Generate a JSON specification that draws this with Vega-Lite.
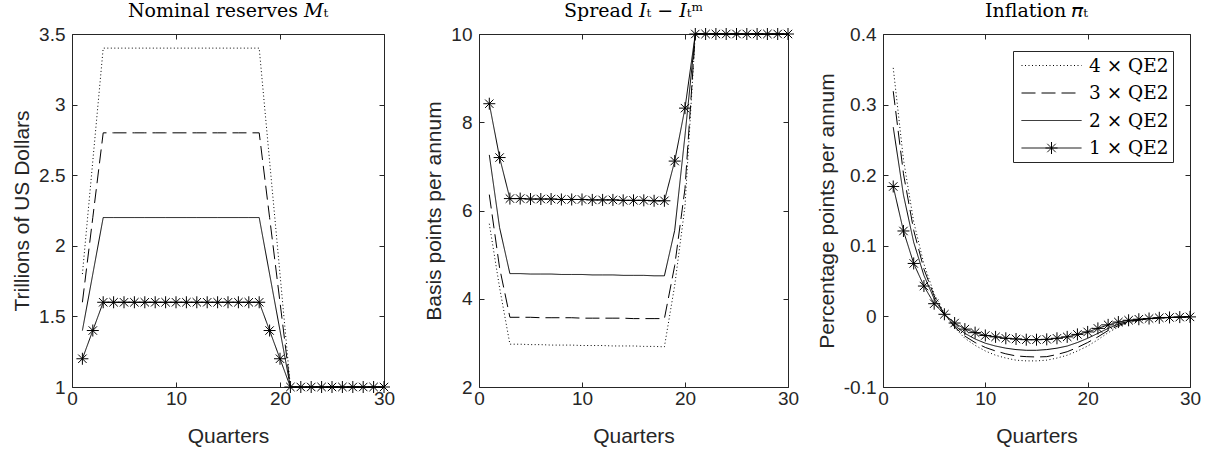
{
  "$schema": "https://vega.github.io/schema/vega-lite/v6.json",
  "background": "white",
  "padding": {"left": 11, "top": 1, "right": 5, "bottom": 5},
  "bounds": "flush",
  "spacing": 95,
  "data": {"values": [
    {"s":"1 × QE2","t":1,"M":1.2,"S":8.42,"P":0.184},
    {"s":"1 × QE2","t":2,"M":1.4,"S":7.2,"P":0.121},
    {"s":"1 × QE2","t":3,"M":1.6,"S":6.27,"P":0.075},
    {"s":"1 × QE2","t":4,"M":1.6,"S":6.27,"P":0.043},
    {"s":"1 × QE2","t":5,"M":1.6,"S":6.26,"P":0.018},
    {"s":"1 × QE2","t":6,"M":1.6,"S":6.26,"P":0.003},
    {"s":"1 × QE2","t":7,"M":1.6,"S":6.26,"P":-0.0094},
    {"s":"1 × QE2","t":8,"M":1.6,"S":6.25,"P":-0.018},
    {"s":"1 × QE2","t":9,"M":1.6,"S":6.25,"P":-0.023},
    {"s":"1 × QE2","t":10,"M":1.6,"S":6.25,"P":-0.027},
    {"s":"1 × QE2","t":11,"M":1.6,"S":6.24,"P":-0.029},
    {"s":"1 × QE2","t":12,"M":1.6,"S":6.24,"P":-0.031},
    {"s":"1 × QE2","t":13,"M":1.6,"S":6.24,"P":-0.032},
    {"s":"1 × QE2","t":14,"M":1.6,"S":6.23,"P":-0.033},
    {"s":"1 × QE2","t":15,"M":1.6,"S":6.23,"P":-0.033},
    {"s":"1 × QE2","t":16,"M":1.6,"S":6.23,"P":-0.0325},
    {"s":"1 × QE2","t":17,"M":1.6,"S":6.22,"P":-0.031},
    {"s":"1 × QE2","t":18,"M":1.6,"S":6.22,"P":-0.029},
    {"s":"1 × QE2","t":19,"M":1.4,"S":7.12,"P":-0.0255},
    {"s":"1 × QE2","t":20,"M":1.2,"S":8.32,"P":-0.022},
    {"s":"1 × QE2","t":21,"M":1,"S":10,"P":-0.017},
    {"s":"1 × QE2","t":22,"M":1,"S":10,"P":-0.012},
    {"s":"1 × QE2","t":23,"M":1,"S":10,"P":-0.008},
    {"s":"1 × QE2","t":24,"M":1,"S":10,"P":-0.0055},
    {"s":"1 × QE2","t":25,"M":1,"S":10,"P":-0.004},
    {"s":"1 × QE2","t":26,"M":1,"S":10,"P":-0.003},
    {"s":"1 × QE2","t":27,"M":1,"S":10,"P":-0.002},
    {"s":"1 × QE2","t":28,"M":1,"S":10,"P":-0.0015},
    {"s":"1 × QE2","t":29,"M":1,"S":10,"P":-0.001},
    {"s":"1 × QE2","t":30,"M":1,"S":10,"P":-0.0007},

    {"s":"2 × QE2","t":1,"M":1.4,"S":7.26,"P":0.268},
    {"s":"2 × QE2","t":2,"M":1.8,"S":5.61,"P":0.172},
    {"s":"2 × QE2","t":3,"M":2.2,"S":4.57,"P":0.105},
    {"s":"2 × QE2","t":4,"M":2.2,"S":4.57,"P":0.058},
    {"s":"2 × QE2","t":5,"M":2.2,"S":4.56,"P":0.025},
    {"s":"2 × QE2","t":6,"M":2.2,"S":4.56,"P":0.003},
    {"s":"2 × QE2","t":7,"M":2.2,"S":4.56,"P":-0.013},
    {"s":"2 × QE2","t":8,"M":2.2,"S":4.55,"P":-0.024},
    {"s":"2 × QE2","t":9,"M":2.2,"S":4.55,"P":-0.032},
    {"s":"2 × QE2","t":10,"M":2.2,"S":4.55,"P":-0.038},
    {"s":"2 × QE2","t":11,"M":2.2,"S":4.54,"P":-0.042},
    {"s":"2 × QE2","t":12,"M":2.2,"S":4.54,"P":-0.045},
    {"s":"2 × QE2","t":13,"M":2.2,"S":4.54,"P":-0.047},
    {"s":"2 × QE2","t":14,"M":2.2,"S":4.53,"P":-0.048},
    {"s":"2 × QE2","t":15,"M":2.2,"S":4.53,"P":-0.048},
    {"s":"2 × QE2","t":16,"M":2.2,"S":4.53,"P":-0.047},
    {"s":"2 × QE2","t":17,"M":2.2,"S":4.52,"P":-0.045},
    {"s":"2 × QE2","t":18,"M":2.2,"S":4.52,"P":-0.042},
    {"s":"2 × QE2","t":19,"M":1.8,"S":5.55,"P":-0.037},
    {"s":"2 × QE2","t":20,"M":1.4,"S":7.7,"P":-0.031},
    {"s":"2 × QE2","t":21,"M":1,"S":10,"P":-0.024},
    {"s":"2 × QE2","t":22,"M":1,"S":10,"P":-0.017},
    {"s":"2 × QE2","t":23,"M":1,"S":10,"P":-0.011},
    {"s":"2 × QE2","t":24,"M":1,"S":10,"P":-0.007},
    {"s":"2 × QE2","t":25,"M":1,"S":10,"P":-0.005},
    {"s":"2 × QE2","t":26,"M":1,"S":10,"P":-0.003},
    {"s":"2 × QE2","t":27,"M":1,"S":10,"P":-0.002},
    {"s":"2 × QE2","t":28,"M":1,"S":10,"P":-0.0015},
    {"s":"2 × QE2","t":29,"M":1,"S":10,"P":-0.001},
    {"s":"2 × QE2","t":30,"M":1,"S":10,"P":-0.0007},

    {"s":"3 × QE2","t":1,"M":1.6,"S":6.36,"P":0.319},
    {"s":"3 × QE2","t":2,"M":2.2,"S":4.7,"P":0.202},
    {"s":"3 × QE2","t":3,"M":2.8,"S":3.58,"P":0.122},
    {"s":"3 × QE2","t":4,"M":2.8,"S":3.58,"P":0.067},
    {"s":"3 × QE2","t":5,"M":2.8,"S":3.58,"P":0.029},
    {"s":"3 × QE2","t":6,"M":2.8,"S":3.57,"P":0.003},
    {"s":"3 × QE2","t":7,"M":2.8,"S":3.57,"P":-0.015},
    {"s":"3 × QE2","t":8,"M":2.8,"S":3.57,"P":-0.028},
    {"s":"3 × QE2","t":9,"M":2.8,"S":3.57,"P":-0.037},
    {"s":"3 × QE2","t":10,"M":2.8,"S":3.56,"P":-0.044},
    {"s":"3 × QE2","t":11,"M":2.8,"S":3.56,"P":-0.049},
    {"s":"3 × QE2","t":12,"M":2.8,"S":3.56,"P":-0.053},
    {"s":"3 × QE2","t":13,"M":2.8,"S":3.56,"P":-0.056},
    {"s":"3 × QE2","t":14,"M":2.8,"S":3.56,"P":-0.057},
    {"s":"3 × QE2","t":15,"M":2.8,"S":3.55,"P":-0.0575},
    {"s":"3 × QE2","t":16,"M":2.8,"S":3.55,"P":-0.057},
    {"s":"3 × QE2","t":17,"M":2.8,"S":3.55,"P":-0.054},
    {"s":"3 × QE2","t":18,"M":2.8,"S":3.55,"P":-0.05},
    {"s":"3 × QE2","t":19,"M":2.2,"S":4.75,"P":-0.044},
    {"s":"3 × QE2","t":20,"M":1.6,"S":6.5,"P":-0.037},
    {"s":"3 × QE2","t":21,"M":1,"S":10,"P":-0.029},
    {"s":"3 × QE2","t":22,"M":1,"S":10,"P":-0.02},
    {"s":"3 × QE2","t":23,"M":1,"S":10,"P":-0.013},
    {"s":"3 × QE2","t":24,"M":1,"S":10,"P":-0.008},
    {"s":"3 × QE2","t":25,"M":1,"S":10,"P":-0.005},
    {"s":"3 × QE2","t":26,"M":1,"S":10,"P":-0.003},
    {"s":"3 × QE2","t":27,"M":1,"S":10,"P":-0.002},
    {"s":"3 × QE2","t":28,"M":1,"S":10,"P":-0.0015},
    {"s":"3 × QE2","t":29,"M":1,"S":10,"P":-0.001},
    {"s":"3 × QE2","t":30,"M":1,"S":10,"P":-0.0007},

    {"s":"4 × QE2","t":1,"M":1.8,"S":5.7,"P":0.352},
    {"s":"4 × QE2","t":2,"M":2.6,"S":4.25,"P":0.222},
    {"s":"4 × QE2","t":3,"M":3.4,"S":2.97,"P":0.134},
    {"s":"4 × QE2","t":4,"M":3.4,"S":2.97,"P":0.074},
    {"s":"4 × QE2","t":5,"M":3.4,"S":2.96,"P":0.032},
    {"s":"4 × QE2","t":6,"M":3.4,"S":2.96,"P":0.004},
    {"s":"4 × QE2","t":7,"M":3.4,"S":2.95,"P":-0.016},
    {"s":"4 × QE2","t":8,"M":3.4,"S":2.95,"P":-0.031},
    {"s":"4 × QE2","t":9,"M":3.4,"S":2.95,"P":-0.041},
    {"s":"4 × QE2","t":10,"M":3.4,"S":2.94,"P":-0.049},
    {"s":"4 × QE2","t":11,"M":3.4,"S":2.94,"P":-0.055},
    {"s":"4 × QE2","t":12,"M":3.4,"S":2.94,"P":-0.059},
    {"s":"4 × QE2","t":13,"M":3.4,"S":2.93,"P":-0.062},
    {"s":"4 × QE2","t":14,"M":3.4,"S":2.93,"P":-0.063},
    {"s":"4 × QE2","t":15,"M":3.4,"S":2.93,"P":-0.063},
    {"s":"4 × QE2","t":16,"M":3.4,"S":2.92,"P":-0.062},
    {"s":"4 × QE2","t":17,"M":3.4,"S":2.92,"P":-0.059},
    {"s":"4 × QE2","t":18,"M":3.4,"S":2.91,"P":-0.055},
    {"s":"4 × QE2","t":19,"M":2.6,"S":4.3,"P":-0.049},
    {"s":"4 × QE2","t":20,"M":1.8,"S":6.1,"P":-0.042},
    {"s":"4 × QE2","t":21,"M":1,"S":10,"P":-0.033},
    {"s":"4 × QE2","t":22,"M":1,"S":10,"P":-0.023},
    {"s":"4 × QE2","t":23,"M":1,"S":10,"P":-0.015},
    {"s":"4 × QE2","t":24,"M":1,"S":10,"P":-0.009},
    {"s":"4 × QE2","t":25,"M":1,"S":10,"P":-0.006},
    {"s":"4 × QE2","t":26,"M":1,"S":10,"P":-0.004},
    {"s":"4 × QE2","t":27,"M":1,"S":10,"P":-0.0025},
    {"s":"4 × QE2","t":28,"M":1,"S":10,"P":-0.0018},
    {"s":"4 × QE2","t":29,"M":1,"S":10,"P":-0.0012},
    {"s":"4 × QE2","t":30,"M":1,"S":10,"P":-0.0008}
  ]},
  "resolve": {"scale": {"strokeDash": "independent"}, "legend": {"strokeDash": "independent"}},
  "hconcat": [
    {
      "width": 312, "height": 353,
      "title": "Nominal reserves 𝑀ₜ",
      "resolve": {"axis": {"x": "independent", "y": "independent"}},
      "layer": [
        {
          "mark": {"type": "line", "stroke": "black", "strokeWidth": 1},
          "encoding": {
            "x": {"field": "t", "type": "quantitative", "scale": {"domain": [0, 30], "nice": false}, "axis": {"title": "Quarters", "values": [0, 10, 20, 30]}},
            "y": {"field": "M", "type": "quantitative", "scale": {"domain": [1, 3.5], "nice": false, "zero": false}, "axis": {"title": "Trillions of US Dollars", "values": [1, 1.5, 2, 2.5, 3, 3.5], "format": "~g"}},
            "strokeDash": {"field": "s", "type": "nominal", "scale": {"domain": ["4 × QE2", "3 × QE2", "2 × QE2", "1 × QE2"], "range": [[1, 2.5], [14, 6], [1, 0], [1, 0]]}, "legend": null}
          }
        },
        {
          "transform": [{"filter": "datum.s === '1 × QE2'"}],
          "mark": {"type": "point", "shape": "M-1,0H1M0,-1V1M-0.7,-0.7L0.7,0.7M-0.7,0.7L0.7,-0.7", "filled": false, "stroke": "black", "strokeWidth": 1, "size": 144, "opacity": 1},
          "encoding": {
            "x": {"field": "t", "type": "quantitative", "axis": {"orient": "top", "title": null, "labels": false, "values": [0, 10, 20, 30]}},
            "y": {"field": "M", "type": "quantitative", "axis": {"orient": "right", "title": null, "labels": false, "values": [1, 1.5, 2, 2.5, 3, 3.5]}}
          }
        }
      ]
    },
    {
      "width": 309, "height": 353,
      "title": "Spread 𝐼ₜ − 𝐼ₜᵐ",
      "resolve": {"axis": {"x": "independent", "y": "independent"}},
      "layer": [
        {
          "mark": {"type": "line", "stroke": "black", "strokeWidth": 1},
          "encoding": {
            "x": {"field": "t", "type": "quantitative", "scale": {"domain": [0, 30], "nice": false}, "axis": {"title": "Quarters", "values": [0, 10, 20, 30]}},
            "y": {"field": "S", "type": "quantitative", "scale": {"domain": [2, 10], "nice": false, "zero": false}, "axis": {"title": "Basis points per annum", "values": [2, 4, 6, 8, 10]}},
            "strokeDash": {"field": "s", "type": "nominal", "scale": {"domain": ["4 × QE2", "3 × QE2", "2 × QE2", "1 × QE2"], "range": [[1, 2.5], [14, 6], [1, 0], [1, 0]]}, "legend": null}
          }
        },
        {
          "transform": [{"filter": "datum.s === '1 × QE2'"}],
          "mark": {"type": "point", "shape": "M-1,0H1M0,-1V1M-0.7,-0.7L0.7,0.7M-0.7,0.7L0.7,-0.7", "filled": false, "stroke": "black", "strokeWidth": 1, "size": 144, "opacity": 1},
          "encoding": {
            "x": {"field": "t", "type": "quantitative", "axis": {"orient": "top", "title": null, "labels": false, "values": [0, 10, 20, 30]}},
            "y": {"field": "S", "type": "quantitative", "axis": {"orient": "right", "title": null, "labels": false, "values": [2, 4, 6, 8, 10]}}
          }
        }
      ]
    },
    {
      "width": 307, "height": 353,
      "title": "Inflation 𝜋ₜ",
      "resolve": {"axis": {"x": "independent", "y": "independent"}},
      "layer": [
        {
          "mark": {"type": "line", "stroke": "black", "strokeWidth": 1},
          "encoding": {
            "x": {"field": "t", "type": "quantitative", "scale": {"domain": [0, 30], "nice": false}, "axis": {"title": "Quarters", "values": [0, 10, 20, 30]}},
            "y": {"field": "P", "type": "quantitative", "scale": {"domain": [-0.1, 0.4], "nice": false, "zero": false}, "axis": {"title": "Percentage points per annum", "values": [-0.1, 0, 0.1, 0.2, 0.3, 0.4], "labelExpr": "replace(format(datum.value, '~g'), '−', '-')"}},
            "strokeDash": {"field": "s", "type": "nominal", "scale": {"domain": ["4 × QE2", "3 × QE2", "2 × QE2", "1 × QE2"], "range": [[1, 2.5], [14, 6], [1, 0], [1, 0]]},
              "legend": {
                "orient": "top-right", "offset": 17, "title": null,
                "strokeColor": "#262626", "fillColor": "white", "padding": 4,
                "labelFont": "DejaVu Serif", "labelFontSize": 18.5, "labelColor": "black",
                "symbolSize": 400, "symbolStrokeWidth": 1, "symbolStrokeColor": "black", "symbolFillColor": "transparent",
                "labelOffset": 51, "rowPadding": 7.5,
                "encode": {"symbols": {"update": {"shape": {"signal": "datum.value === '1 × QE2' ? 'M-0.6,0H5.4M2.4,-0.6V0.6M1.8,0H3M1.98,-0.42L2.82,0.42M1.98,0.42L2.82,-0.42' : 'M-0.6,0H5.4'"}}}}
              }
            }
          }
        },
        {
          "transform": [{"filter": "datum.s === '1 × QE2'"}],
          "mark": {"type": "point", "shape": "M-1,0H1M0,-1V1M-0.7,-0.7L0.7,0.7M-0.7,0.7L0.7,-0.7", "filled": false, "stroke": "black", "strokeWidth": 1, "size": 144, "opacity": 1},
          "encoding": {
            "x": {"field": "t", "type": "quantitative", "axis": {"orient": "top", "title": null, "labels": false, "values": [0, 10, 20, 30]}},
            "y": {"field": "P", "type": "quantitative", "axis": {"orient": "right", "title": null, "labels": false, "values": [-0.1, 0, 0.1, 0.2, 0.3, 0.4]}}
          }
        }
      ]
    }
  ],
  "config": {
    "font": "Liberation Sans",
    "view": {"stroke": "#262626", "strokeWidth": 1},
    "axis": {
      "grid": false, "domain": false,
      "tickColor": "#262626", "tickSize": -5, "tickWidth": 1,
      "labelFont": "Liberation Sans", "labelFontSize": 19, "labelColor": "#262626",
      "labelPadding": 12, "labelFlush": false, "labelOverlap": false,
      "titleFont": "Liberation Sans", "titleFontSize": 21, "titleFontWeight": "normal", "titleColor": "#262626", "titlePadding": 6
    },
    "axisX": {"labelPadding": 7, "titlePadding": 17},
    "title": {"font": "DejaVu Serif", "fontSize": 19, "fontWeight": "normal", "color": "black", "offset": 4}
  }
}
